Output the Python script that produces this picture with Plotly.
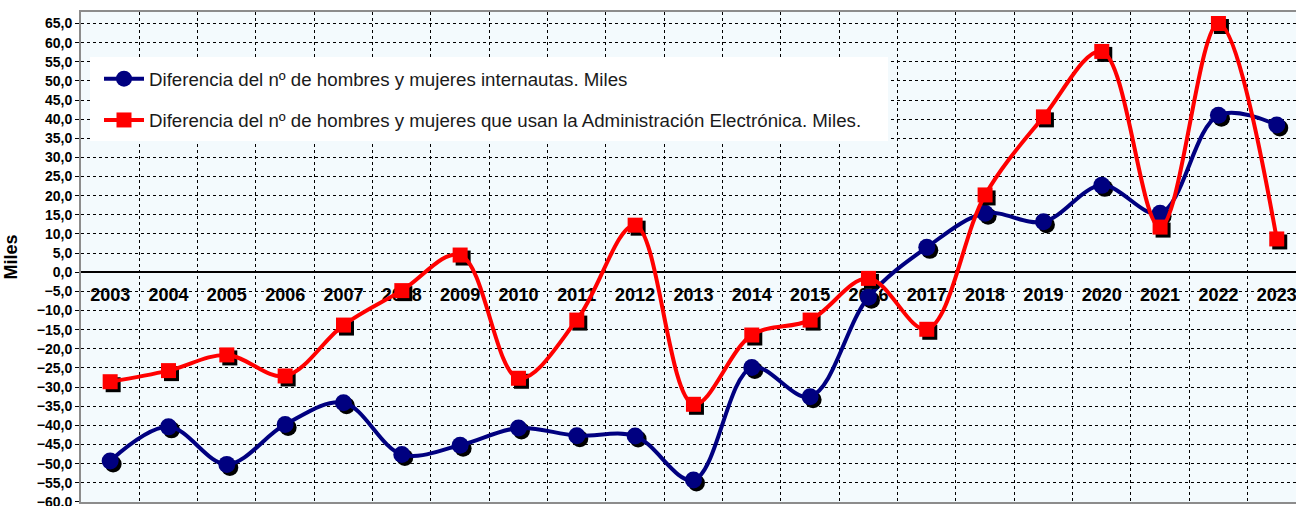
import plotly.graph_objects as go

years = [str(y) for y in range(2003, 2024)]
internautas = [-49.3, -40.4, -50.2, -39.8, -34.1, -47.6, -45.2, -40.7, -42.7, -42.8,
               -54.3, -24.9, -32.5, -6.5, 6.5, 15.4, 13.2, 22.7, 15.4, 41.0, 38.5]
admin_elec = [-28.6, -25.7, -21.6, -27.1, -13.8, -4.8, 4.5, -27.7, -12.5, 12.3,
              -34.5, -16.4, -12.5, -1.6, -14.9, 20.2, 40.6, 57.7, 11.8, 65.0, 8.7]
name_blue = "Diferencia del nº de hombres y mujeres internautas. Miles"
name_red = "Diferencia del nº de hombres y mujeres que usan la Administración Electrónica. Miles."

FONT = "Arial, Liberation Sans, sans-serif"
W, H = 1296, 506
PL, PT, PR, PB = 81, 12, 1296, 502  # plot area in page pixels
ML, MT, MR, MB = PL, PT, W - PR, H - PB
YMIN, YMAX = -60.03, 68
XMIN, XMAX = -0.5, 20.33
px_x = (PR - PL) / (XMAX - XMIN)
px_y = (PB - PT) / (YMAX - YMIN)
SHX, SHY = 3 / px_x, -3 / px_y
LABEL_Y = -24 / px_y

xs = list(range(len(years)))

fig = go.Figure()

# year labels inside plot (below traces)
fig.add_trace(go.Scatter(x=xs, y=[LABEL_Y] * len(xs), mode="text", text=years,
                         textfont=dict(family=FONT, size=18, color="black", weight="bold"),
                         showlegend=False, hoverinfo="skip", cliponaxis=False))

def add_series(vals, color, symbol, size, name, group):
    fig.add_trace(go.Scatter(x=[x + SHX for x in xs], y=[v + SHY for v in vals], mode="markers",
                             marker=dict(color="black", symbol=symbol, size=size),
                             showlegend=False, hoverinfo="skip"))
    fig.add_trace(go.Scatter(x=xs, y=vals, mode="lines+markers", name=name, legendgroup=group,
                             line=dict(color=color, width=4, shape="spline", smoothing=1.0),
                             marker=dict(color=color, symbol=symbol, size=size)))

add_series(internautas, "#000080", "circle", 17, name_blue, "a")
add_series(admin_elec, "#FF0000", "square", 15, name_red, "b")

def px2paper_x(p):
    return (p - PL) / (PR - PL)

def px2paper_y(p):
    return (PB - p) / (PB - PT)

fig.add_shape(type="rect", xref="paper", yref="paper",
              x0=px2paper_x(90), x1=px2paper_x(888), y0=px2paper_y(141), y1=px2paper_y(57),
              fillcolor="white", line=dict(width=0), layer="above")

fig.update_layout(
    width=W, height=H,
    margin=dict(l=ML, r=MR, t=MT, b=MB, pad=0, autoexpand=False),
    paper_bgcolor="white", plot_bgcolor="#F3FAFD",
    separators=",.",
    font=dict(family=FONT, color="black"),
    legend=dict(x=px2paper_x(99), y=px2paper_y(60), xanchor="left", yanchor="top",
                bgcolor="rgba(0,0,0,0)", font=dict(family=FONT, size=18.7, color="#1a1a1a"),
                tracegroupgap=14, itemwidth=40),
    xaxis=dict(range=[XMIN, XMAX], tick0=-0.5, dtick=1, showticklabels=False, ticks="",
               showgrid=True, gridcolor="black", griddash="dot", gridwidth=1,
               zeroline=False, showline=True, linecolor="#8c8c8c", linewidth=2, mirror=True),
    yaxis=dict(range=[YMIN, YMAX], tick0=0, dtick=5, tickformat=".1f",
               tickfont=dict(family=FONT, size=14, color="black", weight="bold"),
               ticklabeloverflow="allow",
               ticks="outside", ticklen=4, tickcolor="black",
               showgrid=True, gridcolor="black", griddash="dot", gridwidth=1,
               zeroline=True, zerolinecolor="black", zerolinewidth=1.5,
               showline=True, linecolor="#8c8c8c", linewidth=2,
               title=dict(text="Miles", font=dict(family=FONT, size=18, color="black", weight="bold"),
                          standoff=14)),
)

fig.write_html("out.html", config={"displayModeBar": False}, post_script=(
    "document.body.style.margin='0';"
    "document.documentElement.style.overflow='hidden';"
    "document.body.style.overflow='hidden';"))
